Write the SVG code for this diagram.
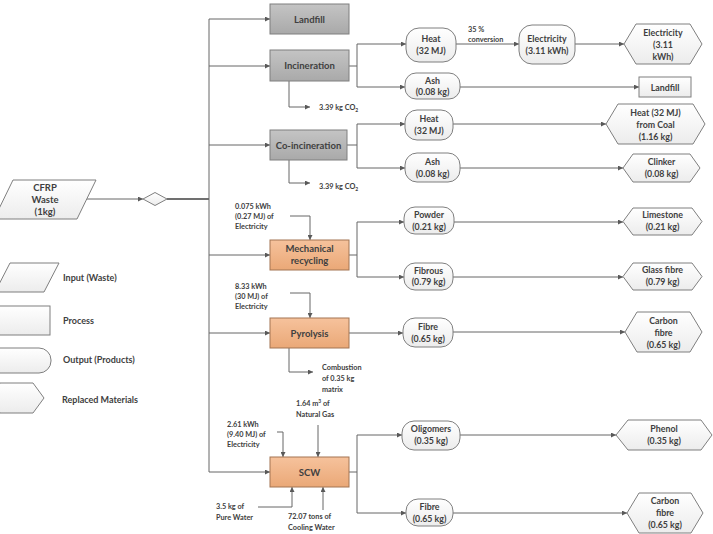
<svg xmlns="http://www.w3.org/2000/svg" width="713" height="534" viewBox="0 0 713 534">
<defs>
<linearGradient id="gGray" x1="0" y1="0" x2="0" y2="1"><stop offset="0" stop-color="#c4c4c4"/><stop offset="1" stop-color="#a9a9a9"/></linearGradient>
<linearGradient id="gOr" x1="0" y1="0" x2="0" y2="1"><stop offset="0" stop-color="#f6c29c"/><stop offset="1" stop-color="#eaa877"/></linearGradient>
<linearGradient id="gW" x1="0" y1="0" x2="0" y2="1"><stop offset="0" stop-color="#ffffff"/><stop offset="1" stop-color="#ececec"/></linearGradient>
<marker id="ar" viewBox="0 0 6 6" refX="6" refY="3" markerWidth="5" markerHeight="5" markerUnits="userSpaceOnUse" orient="auto"><path d="M0,0 L6,3 L0,6 z" fill="#595959"/></marker>
</defs>
<style>
text{font-family:Lato,"Liberation Sans",sans-serif;font-weight:bold;fill:#404040;text-anchor:middle}
.p{fill:url(#gGray);stroke:#7f7f7f;stroke-width:1}
.o{fill:url(#gOr);stroke:#a37452;stroke-width:1}
.w{fill:url(#gW);stroke:#7f7f7f;stroke-width:1}
.b{font-size:9.5px}
.n{font-size:8.8px}
.s{font-size:7.3px;text-anchor:start}
.l{font-size:9px;text-anchor:start}
.c line,.c polyline,.c path{stroke:#666;stroke-width:1;fill:none}
.c .a{marker-end:url(#ar)}
</style>
<g class="c" id="connectors">
<line class="a" x1="87" y1="199" x2="143" y2="199"/>
<line x1="167" y1="199" x2="209" y2="199" style="stroke:#404040;stroke-width:1.5"/>
<line x1="209" y1="19" x2="209" y2="472"/>
<line class="a" x1="209" y1="19" x2="270" y2="19"/>
<line class="a" x1="209" y1="66" x2="270" y2="66"/>
<line class="a" x1="209" y1="145" x2="270" y2="145"/>
<line class="a" x1="209" y1="255" x2="270" y2="255"/>
<line class="a" x1="209" y1="333" x2="270" y2="333"/>
<line class="a" x1="209" y1="472" x2="270" y2="472"/>
<polyline class="a" points="289,81 289,107 310,107"/>
<polyline class="a" points="289,160 289,183 310,183"/>
<line x1="349" y1="66" x2="357" y2="66"/>
<line x1="357" y1="44" x2="357" y2="87"/>
<line class="a" x1="357" y1="44" x2="406" y2="44"/>
<line class="a" x1="357" y1="87" x2="405" y2="87"/>
<line class="a" x1="456" y1="44" x2="519" y2="44"/>
<line class="a" x1="575" y1="44" x2="624" y2="44"/>
<line class="a" x1="460" y1="87" x2="639" y2="87"/>
<line x1="347" y1="145" x2="357" y2="145"/>
<line x1="357" y1="124" x2="357" y2="168"/>
<line class="a" x1="357" y1="124" x2="405" y2="124"/>
<line class="a" x1="357" y1="168" x2="405" y2="168"/>
<line class="a" x1="453" y1="124" x2="606" y2="124"/>
<line class="a" x1="460" y1="168" x2="623" y2="168"/>
<polyline class="a" points="290,216 310,216 310,240"/>
<line x1="349" y1="255" x2="357" y2="255"/>
<line x1="357" y1="222" x2="357" y2="277"/>
<line class="a" x1="357" y1="222" x2="404" y2="222"/>
<line class="a" x1="357" y1="277" x2="404" y2="277"/>
<line class="a" x1="454" y1="222" x2="623" y2="222"/>
<line class="a" x1="453" y1="277" x2="623" y2="277"/>
<polyline class="a" points="290,293 310,293 310,318"/>
<polyline class="a" points="289,348 289,372 313,372"/>
<line class="a" x1="349" y1="333" x2="403" y2="333"/>
<line class="a" x1="453" y1="332" x2="625" y2="332"/>
<polyline class="a" points="277,432 283,432 283,457"/>
<line class="a" x1="318" y1="425" x2="318" y2="457"/>
<polyline class="a" points="258,507 292,507 292,487"/>
<line class="a" x1="323" y1="510" x2="323" y2="487"/>
<line x1="349" y1="472" x2="357" y2="472"/>
<line x1="357" y1="435" x2="357" y2="513"/>
<line class="a" x1="357" y1="435" x2="402" y2="435"/>
<line class="a" x1="357" y1="513" x2="406" y2="513"/>
<line class="a" x1="460" y1="435" x2="616" y2="435"/>
<line class="a" x1="453" y1="513" x2="627" y2="513"/>
</g>
<g id="cfrp"><polygon class="w" points="13,180 96,180 77,219 -6,219"/><text class="b" x="45" y="191">CFRP</text><text class="b" x="45" y="203">Waste</text><text class="b" x="45" y="215">(1kg)</text></g>
<g id="diamond"><polygon class="w" points="143,199 155,192.5 167,199 155,205.5"/></g>
<g id="landfill"><rect class="p" x="270" y="4" width="79" height="30"/><text class="b" x="309.5" y="22.5">Landfill</text></g>
<g id="incineration"><rect class="p" x="270" y="50" width="79" height="31"/><text class="b" x="309.5" y="69">Incineration</text></g>
<g id="co2a"><text class="s" x="319" y="110">3.39 kg CO<tspan font-size="5" dy="2">2</tspan></text></g>
<g id="heat1"><rect class="w" x="406" y="28" width="50" height="34" rx="13"/><text class="n" x="431" y="42">Heat</text><text class="n" x="431" y="54">(32 MJ)</text></g>
<g id="conv"><text class="s" x="468" y="32">35 %</text><text class="s" x="468" y="42">conversion</text></g>
<g id="elec1"><rect class="w" x="519" y="25" width="56" height="39" rx="13"/><text class="n" x="547" y="42">Electricity</text><text class="n" x="547" y="54">(3.11 kWh)</text></g>
<g id="elec2"><polygon class="w" points="636,24 690,24 702,44 690,64 636,64 624,44"/><text class="n" x="663" y="36">Electricity</text><text class="n" x="663" y="48">(3.11</text><text class="n" x="663" y="60">kWh)</text></g>
<g id="ash1"><rect class="w" x="405" y="73" width="55" height="26" rx="11"/><text class="n" x="432.5" y="83.5">Ash</text><text class="n" x="432.5" y="95">(0.08 kg)</text></g>
<g id="landfill2"><rect class="w" x="639" y="77" width="52" height="20"/><text class="n" x="665" y="90.5">Landfill</text></g>
<g id="coinc"><rect class="p" x="270" y="130" width="77" height="30"/><text class="b" x="308.5" y="148.5">Co-incineration</text></g>
<g id="co2b"><text class="s" x="319" y="189">3.39 kg CO<tspan font-size="5" dy="2">2</tspan></text></g>
<g id="heat2"><rect class="w" x="405" y="110" width="48" height="30" rx="12"/><text class="n" x="429" y="122">Heat</text><text class="n" x="429" y="134">(32 MJ)</text></g>
<g id="coal"><polygon class="w" points="618,104 693,104 705,124 693,144 618,144 606,124"/><text class="n" x="655.5" y="116">Heat (32 MJ)</text><text class="n" x="655.5" y="128">from Coal</text><text class="n" x="655.5" y="140">(1.16 kg)</text></g>
<g id="ash2"><rect class="w" x="405" y="153" width="55" height="29" rx="12"/><text class="n" x="432.5" y="165">Ash</text><text class="n" x="432.5" y="177">(0.08 kg)</text></g>
<g id="clinker"><polygon class="w" points="633,154 690,154 700,168 690,182 633,182 623,168"/><text class="n" x="661.5" y="165">Clinker</text><text class="n" x="661.5" y="177">(0.08 kg)</text></g>
<g id="mech"><rect class="o" x="270" y="240" width="79" height="30"/><text class="b" x="309.5" y="252">Mechanical</text><text class="b" x="309.5" y="264">recycling</text></g>
<g id="mechin"><text class="s" x="235" y="209">0.075 kWh</text><text class="s" x="235" y="219">(0.27 MJ) of</text><text class="s" x="235" y="229">Electricity</text></g>
<g id="powder"><rect class="w" x="404" y="207" width="50" height="27" rx="11"/><text class="n" x="429" y="218">Powder</text><text class="n" x="429" y="230">(0.21 kg)</text></g>
<g id="limestone"><polygon class="w" points="633,208 692,208 702,221.5 692,235 633,235 623,221.5"/><text class="n" x="662.5" y="218">Limestone</text><text class="n" x="662.5" y="230">(0.21 kg)</text></g>
<g id="fibrous"><rect class="w" x="404" y="263" width="49" height="27" rx="11"/><text class="n" x="428.5" y="273.5">Fibrous</text><text class="n" x="428.5" y="285">(0.79 kg)</text></g>
<g id="glass"><polygon class="w" points="633,263 692,263 702,276.5 692,290 633,290 623,276.5"/><text class="n" x="662.5" y="273">Glass fibre</text><text class="n" x="662.5" y="285">(0.79 kg)</text></g>
<g id="pyro"><rect class="o" x="270" y="318" width="79" height="30"/><text class="b" x="309.5" y="336.5">Pyrolysis</text></g>
<g id="pyroin"><text class="s" x="235" y="289">8.33 kWh</text><text class="s" x="235" y="299">(30 MJ) of</text><text class="s" x="235" y="309">Electricity</text></g>
<g id="comb"><text class="s" x="322" y="370">Combustion</text><text class="s" x="322" y="381">of 0.35 kg</text><text class="s" x="322" y="392">matrix</text></g>
<g id="fibre1"><rect class="w" x="403" y="318" width="50" height="29" rx="12"/><text class="n" x="428" y="329.5">Fibre</text><text class="n" x="428" y="341.5">(0.65 kg)</text></g>
<g id="cf1"><polygon class="w" points="637,312 690,312 702,332 690,352 637,352 625,332"/><text class="n" x="663.5" y="324">Carbon</text><text class="n" x="663.5" y="336">fibre</text><text class="n" x="663.5" y="348">(0.65 kg)</text></g>
<g id="scw"><rect class="o" x="270" y="457" width="79" height="30"/><text class="b" x="309.5" y="475.5">SCW</text></g>
<g id="scwin1"><text class="s" x="227" y="427">2.61 kWh</text><text class="s" x="227" y="437">(9.40 MJ) of</text><text class="s" x="227" y="447">Electricity</text></g>
<g id="scwin2"><text class="s" x="296" y="406">1.64 m<tspan font-size="5" dy="-3">3</tspan><tspan dy="3"> of</tspan></text><text class="s" x="296" y="417">Natural Gas</text></g>
<g id="scwin3"><text class="s" x="216" y="509">3.5 kg of</text><text class="s" x="216" y="520">Pure Water</text></g>
<g id="scwin4"><text class="s" x="288" y="519">72.07 tons of</text><text class="s" x="288" y="530">Cooling Water</text></g>
<g id="olig"><rect class="w" x="402" y="421" width="58" height="29" rx="12"/><text class="n" x="431" y="432">Oligomers</text><text class="n" x="431" y="444">(0.35 kg)</text></g>
<g id="phenol"><polygon class="w" points="628,420 701,420 712,435 701,450 628,450 616,435"/><text class="n" x="664" y="432">Phenol</text><text class="n" x="664" y="444">(0.35 kg)</text></g>
<g id="fibre2"><rect class="w" x="406" y="499" width="47" height="27" rx="12"/><text class="n" x="429.5" y="510">Fibre</text><text class="n" x="429.5" y="522">(0.65 kg)</text></g>
<g id="cf2"><polygon class="w" points="639,493 691,493 703,513 691,533 639,533 627,513"/><text class="n" x="665" y="504">Carbon</text><text class="n" x="665" y="516">fibre</text><text class="n" x="665" y="528">(0.65 kg)</text></g>
<g id="legend">
<polygon class="w" points="10,263 59,263 44,292 -5,292"/><text class="l" x="63" y="281">Input (Waste)</text>
<rect class="w" x="-2" y="306" width="52" height="29"/><text class="l" x="63" y="324">Process</text>
<rect class="w" x="-20" y="348" width="71" height="25" rx="12"/><text class="l" x="63" y="363">Output (Products)</text>
<polygon class="w" points="0,383 33,383 44,398 33,413 0,413 -10,398"/><text class="l" x="62" y="403">Replaced Materials</text>
</g>
</svg>
